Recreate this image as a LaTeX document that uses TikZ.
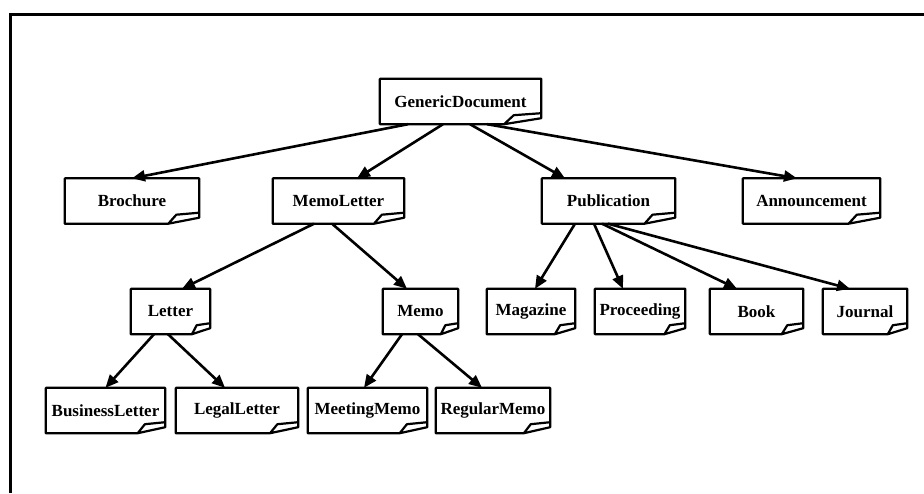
\documentclass[tikz,border=0pt]{standalone}
\usepackage{fontspec}
\usetikzlibrary{arrows.meta,calc}
\newfontfamily\lbl{Liberation Serif}

% outline of a document sheet whose bottom-right corner is folded up
\newcommand\docshape[1]{%
  \draw[docline] let \p1=(#1.south west), \p2=(#1.north east),
                     \n1={0.23*(\x2-\x1)} in
    (\x2,\y1+11pt) -- (\x2,\y2) -- (\x1,\y2) -- (\x1,\y1) -- (\x2-\n1,\y1)
    -- (\x2-0.74*\n1,\y1+9pt) -- cycle
    (\x2-\n1,\y1) -- (\x2,\y1+6pt) -- (\x2,\y1+11pt);
}

\begin{document}
\begin{tikzpicture}[x=1pt,y=-1pt,
  doc/.style={font=\lbl\bfseries\fontsize{17}{20}\selectfont, minimum height=45pt, inner sep=0pt},
  docline/.style={line width=2.2pt, line join=round},
  edge/.style={line width=2.6pt, -{Triangle[length=13pt,width=11pt]}},
  frameline/.style={line width=3pt}]
\useasboundingbox (0,0) rectangle (924,493);

% open frame: left and top sides
\draw[frameline] (10,493) -- (10,14) -- (924,14);

% document classes
\node[doc, minimum width=161pt] (gd)   at (460.5,101.5) {GenericDocument};
\node[doc, minimum width=134pt] (bro)  at (132,201)     {Brochure};
\node[doc, minimum width=131pt] (ml)   at (338.5,201)   {MemoLetter};
\node[doc, minimum width=133pt] (pub)  at (608.5,201)   {Publication};
\node[doc, minimum width=137pt] (ann)  at (811.5,201)   {Announcement};
\node[doc, minimum width=79pt]  (let)  at (170.5,311.5) {Letter};
\node[doc, minimum width=75pt]  (memo) at (420.5,311.5) {Memo};
\node[doc, minimum width=88pt]  (mag)  at (531,311.5)   {Magazine};
\node[doc, minimum width=90pt]  (proc) at (640,311.5)   {Proceeding};
\node[doc, minimum width=93pt]  (book) at (756.5,311.5) {Book};
\node[doc, minimum width=84pt]  (jour) at (865,311.5)   {Journal};
\node[doc, minimum width=119pt] (bl)   at (105.5,410.5) {BusinessLetter};
\node[doc, minimum width=122pt] (ll)   at (237,410.5)   {LegalLetter};
\node[doc, minimum width=119pt] (mm)   at (367.5,410.5) {MeetingMemo};
\node[doc, minimum width=114pt] (rm)   at (493,410.5)   {RegularMemo};

\docshape{gd}   \docshape{bro}  \docshape{ml}   \docshape{pub}
\docshape{ann}  \docshape{let}  \docshape{memo} \docshape{mag}
\docshape{proc} \docshape{book} \docshape{jour} \docshape{bl}
\docshape{ll}   \docshape{mm}   \docshape{rm}

% inheritance arrows
\draw[edge] ([xshift=-52.5pt]gd.south) -- (bro.north);
\draw[edge] ([xshift=-17.5pt]gd.south) -- ([xshift=18.5pt]ml.north);
\draw[edge] ([xshift=9.5pt]gd.south)   -- ([xshift=-43.5pt]pub.north);
\draw[edge] ([xshift=26.5pt]gd.south)  -- ([xshift=-14.5pt]ann.north);

\draw[edge] ([xshift=-24.5pt]ml.south) -- ([xshift=11.5pt]let.north);
\draw[edge] ([xshift=-6.5pt]ml.south)  -- ([xshift=-13.5pt]memo.north);

\draw[edge] ([xshift=-16.5pt]let.south) -- (bl.north);
\draw[edge] ([xshift=-2.5pt]let.south)  -- ([xshift=-12pt]ll.north);

\draw[edge] ([xshift=-18.5pt]memo.south) -- ([xshift=-3.5pt]mm.north);
\draw[edge] ([xshift=-2.5pt]memo.south)  -- ([xshift=-11pt]rm.north);

\draw[edge] ([xshift=-33.5pt]pub.south) -- ([xshift=4pt]mag.north);
\draw[edge] ([xshift=-14.5pt]pub.south) -- ([xshift=-17pt]proc.north);
\draw[edge] ([xshift=-6.5pt]pub.south)  -- ([xshift=-19.5pt]book.north);
\draw[edge] ([xshift=-0.5pt]pub.south)  -- ([xshift=-15pt]jour.north);
\end{tikzpicture}
\end{document}
